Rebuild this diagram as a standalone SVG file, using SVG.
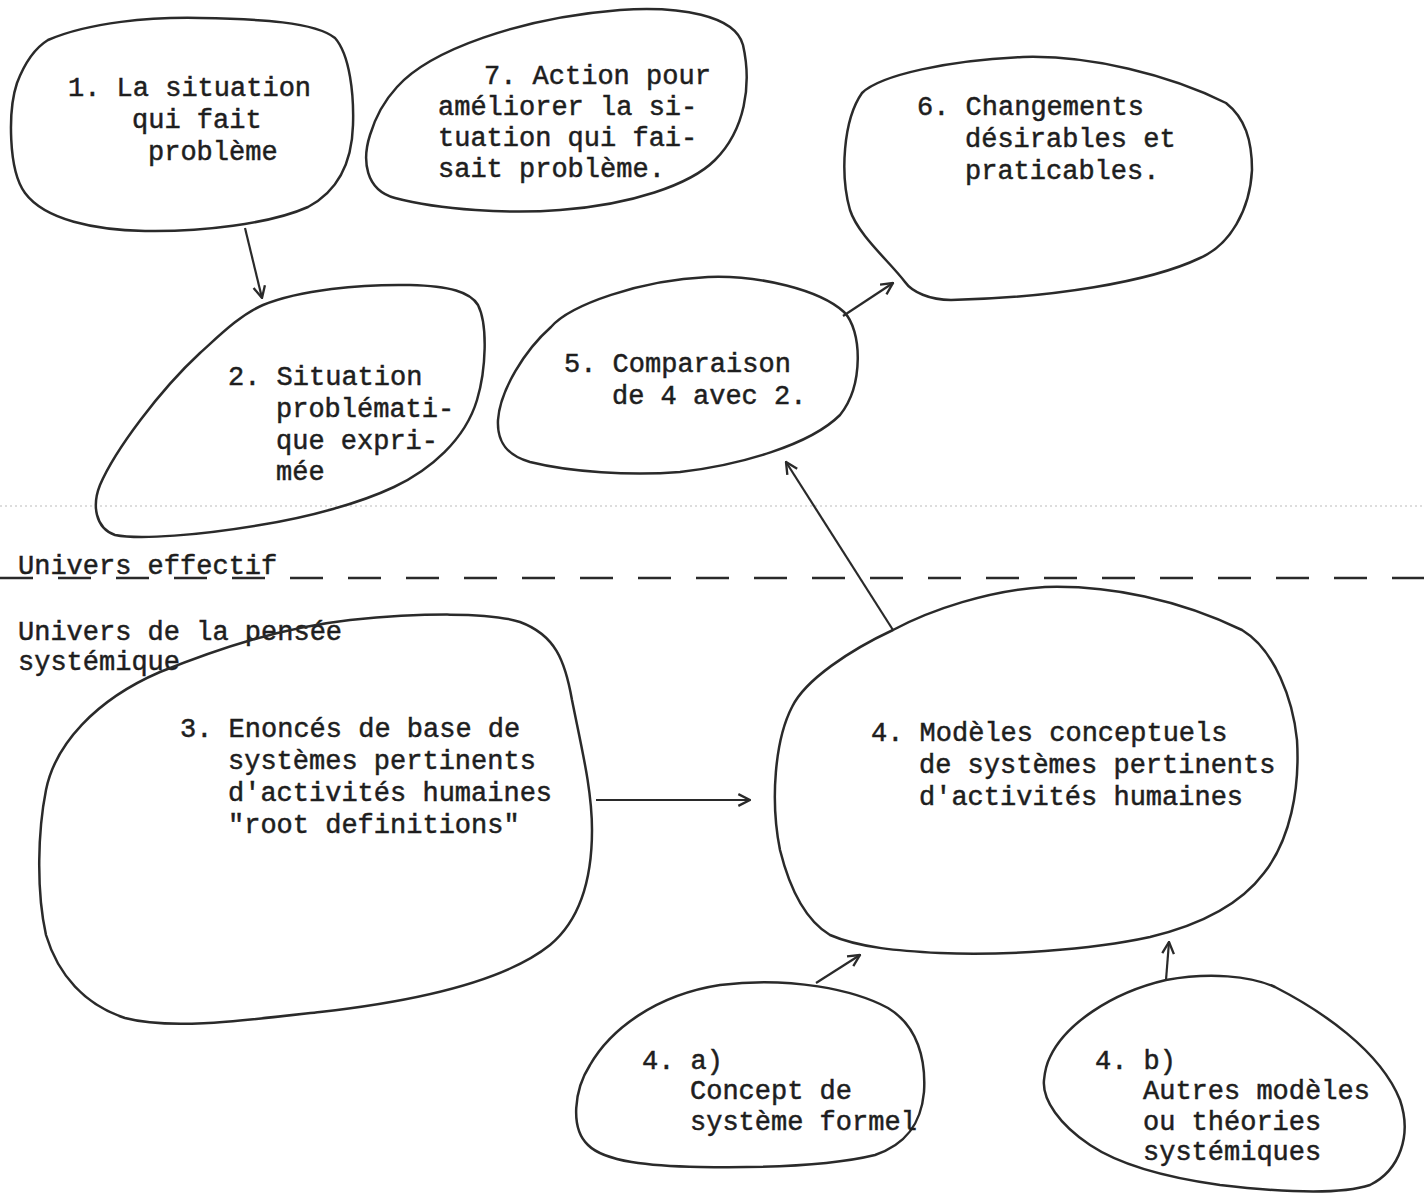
<svg xmlns="http://www.w3.org/2000/svg" width="1424" height="1194" viewBox="0 0 1424 1194">
<style>
.blob{fill:none;stroke:#2a2a2a;stroke-width:2.5;stroke-linejoin:round}
.t{font-family:"Liberation Mono","Courier New",monospace;font-size:27px;fill:#1e1e1e;stroke:#1e1e1e;stroke-width:0.5}
.con{fill:none;stroke:#2a2a2a;stroke-width:2.2}
</style>
<defs>
<marker id="ah" viewBox="0 0 12 12" refX="11" refY="6" markerWidth="14" markerHeight="14" markerUnits="userSpaceOnUse" orient="auto">
<path d="M1,1 L11,6 L1,11" fill="none" stroke="#2a2a2a" stroke-width="2"/>
</marker>
</defs>
<rect width="1424" height="1194" fill="#fff"/>
<g id="boundary">
<line x1="0" y1="506" x2="1424" y2="506" stroke="#bbb" stroke-width="1" stroke-dasharray="2 3"/>
<line x1="0" y1="578" x2="1424" y2="578" stroke="#2a2a2a" stroke-width="2.5" stroke-dasharray="33 25"/>
<text class="t" x="18" y="574">Univers effectif</text>
<text class="t" x="18" y="640">Univers de la pensée</text>
<text class="t" x="18" y="670">systémique</text>
</g>
<g id="node1">
<path class="blob" d="M 48,40 C 90,22 150,17 200,18 C 260,19 315,22 335,38 C 350,55 354,95 353,125 C 352,160 340,190 308,207 C 270,224 200,232 145,231 C 95,230 45,220 25,193 C 8,170 8,110 17,83 C 25,62 35,48 48,40 Z"/>
<text class="t" x="68" y="96">1. La situation</text>
<text class="t" x="132" y="128">qui fait</text>
<text class="t" x="148" y="160">problème</text>
</g>
<g id="node7">
<path class="blob" d="M 397,87 C 430,50 520,18 620,10 C 680,6 735,15 743,45 C 752,85 745,130 715,160 C 690,185 630,205 560,210 C 510,214 440,210 395,198 C 365,190 362,160 370,135 C 376,115 385,100 397,87 Z"/>
<text class="t" x="484" y="84">7. Action pour</text>
<text class="t" x="438" y="115">améliorer la si-</text>
<text class="t" x="438" y="146">tuation qui fai-</text>
<text class="t" x="438" y="177">sait problème.</text>
</g>
<g id="node6">
<path class="blob" d="M 862,93 C 880,75 950,60 1023,57 C 1090,55 1170,75 1226,103 C 1245,118 1252,140 1252,170 C 1250,210 1230,245 1200,258 C 1150,282 1050,298 951,300 C 930,300 912,292 905,282 C 890,262 858,235 850,210 C 840,175 843,120 862,93 Z"/>
<text class="t" x="917" y="115">6. Changements</text>
<text class="t" x="965" y="147">désirables et</text>
<text class="t" x="965" y="179">praticables.</text>
</g>
<g id="node2">
<path class="blob" d="M 263,305 C 300,290 360,284 410,285 C 450,286 470,292 478,305 C 488,325 486,370 477,400 C 465,440 430,470 394,487 C 360,503 310,517 260,525 C 200,535 140,540 115,535 C 95,528 92,505 100,485 C 115,450 160,390 200,353 C 220,335 240,315 263,305 Z"/>
<text class="t" x="228" y="385">2. Situation</text>
<text class="t" x="276" y="417">problémati-</text>
<text class="t" x="276" y="449">que expri-</text>
<text class="t" x="276" y="480">mée</text>
</g>
<g id="node5">
<path class="blob" d="M 551,327 C 570,305 640,280 708,277 C 760,275 820,290 844,312 C 862,330 864,385 840,415 C 810,445 740,465 680,472 C 630,476 570,472 530,462 C 505,455 497,440 498,420 C 500,390 525,350 551,327 Z"/>
<text class="t" x="564" y="372">5. Comparaison</text>
<text class="t" x="612" y="404">de 4 avec 2.</text>
</g>
<g id="node3">
<path class="blob" d="M 160,672 C 220,648 280,628 350,620 C 420,613 490,612 520,622 C 555,635 565,660 572,700 C 582,750 592,790 592,830 C 592,880 580,920 550,945 C 500,985 400,1003 320,1012 C 240,1021 170,1030 125,1018 C 85,1005 58,975 46,935 C 36,890 38,830 46,790 C 55,745 95,700 160,672 Z"/>
<text class="t" x="180" y="737">3. Enoncés de base de</text>
<text class="t" x="228" y="769">systèmes pertinents</text>
<text class="t" x="228" y="801">d'activités humaines</text>
<text class="t" x="228" y="833">"root definitions"</text>
</g>
<g id="node4">
<path class="blob" d="M 893,630 C 930,610 990,590 1045,587 C 1110,585 1180,600 1242,630 C 1275,650 1293,700 1297,740 C 1300,790 1290,840 1264,873 C 1240,905 1200,925 1150,937 C 1090,950 1000,956 940,953 C 900,951 860,948 830,935 C 805,920 790,890 780,850 C 770,800 775,740 792,707 C 805,680 850,650 893,630 Z"/>
<text class="t" x="871" y="741">4. Modèles conceptuels</text>
<text class="t" x="919" y="773">de systèmes pertinents</text>
<text class="t" x="919" y="805">d'activités humaines</text>
</g>
<g id="node4a">
<path class="blob" d="M 720,985 C 790,976 855,990 888,1008 C 918,1026 926,1060 924,1092 C 921,1125 905,1145 875,1155 C 830,1166 760,1168 700,1167 C 650,1166 605,1162 588,1145 C 570,1128 574,1090 590,1065 C 610,1030 655,995 720,985 Z"/>
<text class="t" x="642" y="1069">4. a)</text>
<text class="t" x="690" y="1099">Concept de</text>
<text class="t" x="690" y="1130">système formel</text>
</g>
<g id="node4b">
<path class="blob" d="M 1050,1057 C 1065,1025 1110,993 1166,980 C 1210,972 1250,976 1275,987 C 1320,1010 1380,1050 1400,1100 C 1412,1135 1400,1170 1370,1185 C 1340,1195 1280,1192 1220,1185 C 1170,1178 1120,1165 1090,1145 C 1060,1125 1042,1100 1044,1080 C 1045,1070 1047,1063 1050,1057 Z"/>
<text class="t" x="1095" y="1069">4. b)</text>
<text class="t" x="1143" y="1099">Autres modèles</text>
<text class="t" x="1143" y="1130">ou théories</text>
<text class="t" x="1143" y="1160">systémiques</text>
</g>
<g id="connectors">
<line class="con" x1="245" y1="228" x2="262" y2="298" marker-end="url(#ah)"/>
<line class="con" x1="843" y1="316" x2="893" y2="283" marker-end="url(#ah)"/>
<line class="con" x1="893" y1="630" x2="786" y2="462" marker-end="url(#ah)"/>
<line class="con" x1="596" y1="800" x2="750" y2="800" marker-end="url(#ah)"/>
<line class="con" x1="816" y1="983" x2="860" y2="955" marker-end="url(#ah)"/>
<line class="con" x1="1166" y1="980" x2="1169" y2="942" marker-end="url(#ah)"/>
</g>
</svg>
